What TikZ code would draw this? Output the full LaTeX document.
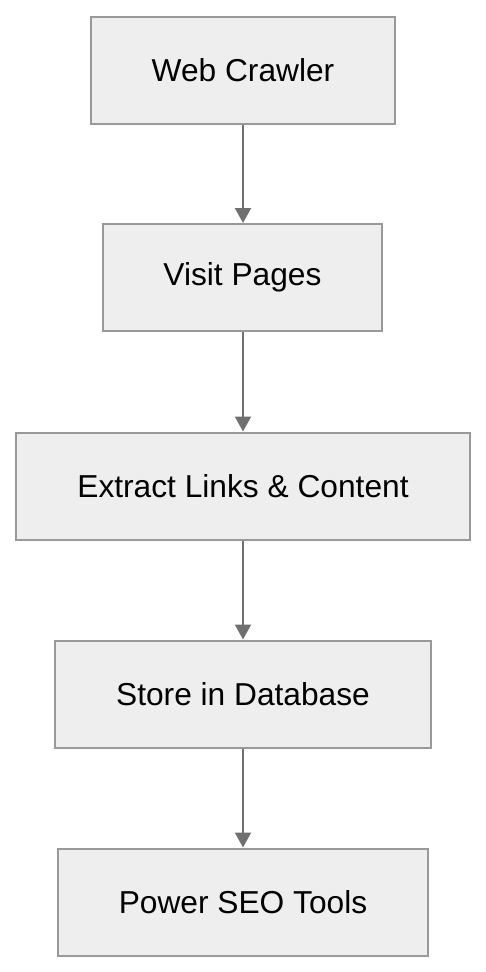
\documentclass[tikz,border=0pt]{standalone}
\usepackage{fontspec}
\setmainfont{Liberation Sans}
\usetikzlibrary{arrows.meta}
\definecolor{boxfill}{HTML}{EEEEEE}
\definecolor{boxline}{HTML}{999999}
\definecolor{arrowcol}{HTML}{707070}
\begin{document}
\begin{tikzpicture}[x=1pt,y=-1pt,
  stepbox/.style={draw=boxline,line width=2pt,fill=boxfill,minimum height=107pt,inner sep=0pt,
    font=\fontsize{31.7}{38}\selectfont},
  flow/.style={draw=arrowcol,line width=2pt,-{Triangle[width=16pt,length=15pt]}}]
\useasboundingbox (0,0) rectangle (486,972);
\node[stepbox,minimum width=304pt] (a) at (243,70) {Web Crawler};
\node[stepbox,minimum width=279pt] (b) at (242.5,277.5) {Visit Pages};
\node[stepbox,minimum width=454pt] (c) at (243,486) {Extract Links \& Content};
\node[stepbox,minimum width=376pt] (d) at (243,694) {Store in Database};
\node[stepbox,minimum width=370pt] (e) at (243,902) {Power SEO Tools};
\draw[flow] (a.south) -- (a.south |- b.north);
\draw[flow] (a.south |- b.south) -- (c.north);
\draw[flow] (c.south) -- (d.north);
\draw[flow] (d.south) -- (e.north);
\end{tikzpicture}
\end{document}
